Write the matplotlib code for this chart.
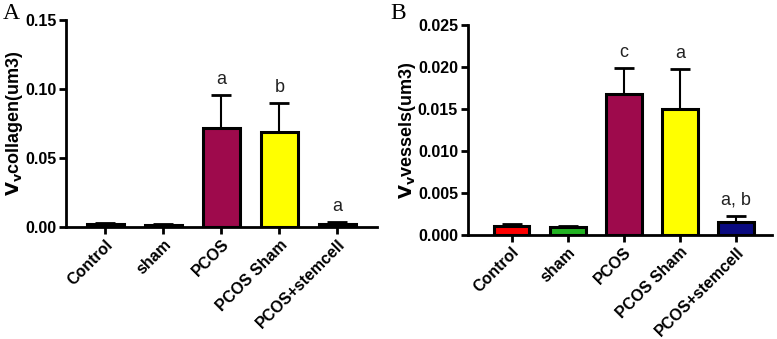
import matplotlib.pyplot as plt

groups = ["Control", "sham", "PCOS", "PCOS Sham", "PCOS+stemcell"]
colors = ["#FF0000", "#22B322", "#9E0A4C", "#FFFF00", "#0A0A80"]

# panel A: collagen
collagen_mean = [0.002, 0.0015, 0.0717, 0.0688, 0.0022]
collagen_err = [0.0012, 0.0006, 0.024, 0.0211, 0.0016]
collagen_marks = ["", "", "a", "b", "a"]

# panel B: vessels
vessels_mean = [0.0011, 0.00100, 0.0168, 0.0150, 0.0015]
vessels_err = [0.00025, 0.00012, 0.0031, 0.0048, 0.0008]
vessels_marks = ["", "", "c", "a", "a, b"]

plt.rcParams["font.family"] = ["Liberation Sans", "DejaVu Sans"]

fig = plt.figure(figsize=(7.77, 3.39), dpi=100)
axA = fig.add_axes([0.085, 0.330, 0.400, 0.611])
axB = fig.add_axes([0.602, 0.307, 0.392, 0.619])


def draw(ax, means, errs, marks, ymax, yticks, fmt, ylabel, xlim, mark_gap):
    x = range(len(groups))
    ax.bar(x, means, width=0.64, color=colors, edgecolor="black", linewidth=2.2, zorder=3)
    ax.errorbar(x, means, yerr=[[0] * len(errs), errs], fmt="none", ecolor="black",
                elinewidth=1.5, capsize=7, capthick=2, zorder=2)
    for i, m in enumerate(marks):
        if m:
            ax.text(i, means[i] + errs[i] + mark_gap, m, ha="center", va="bottom",
                    fontsize=13, color="#222222")
    ax.set_ylim(0, ymax)
    ax.set_xlim(*xlim)
    ax.set_yticks(yticks)
    ax.set_yticklabels([fmt.format(t) for t in yticks], fontsize=11.5, fontweight="bold")
    ax.set_xticks(list(x))
    ax.set_xticklabels(groups, rotation=45, ha="right", rotation_mode="anchor",
                       fontsize=11.5, fontweight="bold")
    ax.set_ylabel(ylabel, fontsize=13, fontweight="bold", labelpad=0)
    for s in ["top", "right"]:
        ax.spines[s].set_visible(False)
    for s in ["left", "bottom"]:
        ax.spines[s].set_linewidth(2)
    ax.tick_params(axis="both", width=2, length=5, direction="out", pad=2)


draw(axA, collagen_mean, collagen_err, collagen_marks, 0.15,
     [0.0, 0.05, 0.10, 0.15], "{:.2f}", r"$\mathbf{V_v}$collagen(um3)", (-0.68, 4.68), 0.005)
draw(axB, vessels_mean, vessels_err, vessels_marks, 0.025,
     [0.0, 0.005, 0.010, 0.015, 0.020, 0.025], "{:.3f}", r"$\mathbf{V_v}$vessels(um3)",
     (-0.78, 4.65), 0.0008)

fig.text(0.003, 0.99, "A", fontsize=17, family="Liberation Serif", va="top")
fig.text(0.503, 0.99, "B", fontsize=17, family="Liberation Serif", va="top")

fig.savefig("out.png", dpi=100)
